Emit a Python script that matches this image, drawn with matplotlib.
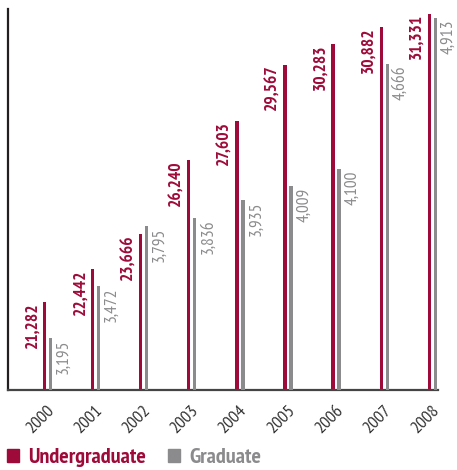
import numpy as np
import matplotlib
matplotlib.use("Agg")
import matplotlib.pyplot as plt
import matplotlib.transforms as mtransforms
from matplotlib.patches import Patch

years = ["2000", "2001", "2002", "2003", "2004", "2005", "2006", "2007", "2008"]
undergrad = [21282, 22442, 23666, 26240, 27603, 29567, 30283, 30882, 31331]
graduate = [3195, 3472, 3795, 3836, 3935, 4009, 4100, 4666, 4913]

RED = "#9e0b3a"
GRAY = "#8b8b8e"
DARK = "#231f20"

plt.rcParams["font.family"] = ["PT Sans Narrow", "Roboto Condensed", "DejaVu Sans"]

fig = plt.figure(figsize=(4.57, 4.70), dpi=100)
ax = fig.add_axes([8 / 457, 80 / 470, 430 / 457, 381 / 470])
ax2 = ax.twinx()

x = np.arange(len(years))
off = 0.0625
w = 0.07

ax.bar(x - off, undergrad, width=w, color=RED)
ax2.bar(x + off, graduate, width=w, color=GRAY)

# two separate scales, the chart is not zero based
ax.set_ylim(18225, 31510)
ax2.set_ylim(2915, 4960)
ax.set_xlim(-0.821, 8.118)

for xi, v in zip(x, undergrad):
    ax.annotate(f"{v:,}", (xi - off - w / 2, v), xytext=(-2, 0),
                textcoords="offset points", rotation=90, ha="right", va="top",
                color=RED, fontsize=12.5, fontweight="bold")
for xi, v in zip(x, graduate):
    ax2.annotate(f"{v:,}", (xi + off + w / 2, v), xytext=(2.5, -1),
                 textcoords="offset points", rotation=90, ha="left", va="top",
                 color=GRAY, fontsize=12.5)

for a in (ax, ax2):
    a.spines["top"].set_visible(False)
    a.spines["right"].set_visible(False)
    a.set_yticks([])
ax2.spines["left"].set_visible(False)
ax2.spines["bottom"].set_visible(False)
ax.spines["left"].set_color(DARK)
ax.spines["bottom"].set_color("#444444")
ax.spines["left"].set_linewidth(1.6)
ax.spines["bottom"].set_linewidth(1.6)

ax.set_xticks(x)
ax.set_xticklabels(years, rotation=45, ha="right", va="center",
                   rotation_mode="anchor", fontsize=13, color="#333333")
ax.tick_params(axis="x", length=0, pad=13)
shift = mtransforms.ScaledTranslation(4.5 / 100, 0, fig.dpi_scale_trans)
for lbl in ax.get_xticklabels():
    lbl.set_transform(lbl.get_transform() + shift)

handles = [Patch(color=RED, label="Undergraduate"), Patch(color=GRAY, label="Graduate")]
leg = fig.legend(handles=handles, loc="lower left", bbox_to_anchor=(7 / 457, 0.006),
                 ncol=2, frameon=False, borderpad=0, borderaxespad=0,
                 handlelength=0.55, handleheight=0.55,
                 handletextpad=0.4, columnspacing=1.0,
                 prop={"size": 16, "weight": "bold"})
for t, c in zip(leg.get_texts(), [RED, GRAY]):
    t.set_color(c)

fig.savefig("out.png", dpi=100)
